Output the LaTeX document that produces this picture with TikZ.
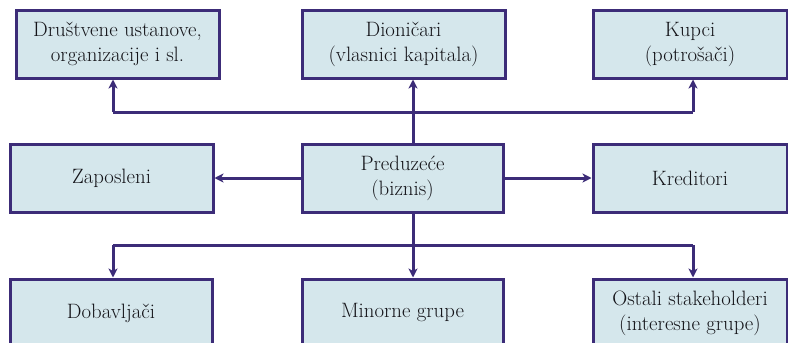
\documentclass[tikz,border=0pt]{standalone}
\usetikzlibrary{arrows.meta,calc}
\definecolor{boxfill}{RGB}{213,231,236}
\definecolor{boxline}{RGB}{60,44,120}
\definecolor{txt}{RGB}{20,20,25}
\begin{document}
\begin{tikzpicture}[x=1pt,y=-1pt,
  stkbox/.style={draw=boxline,fill=boxfill,line width=3pt,minimum height=68pt,
    inner sep=0pt,align=center,text=txt,font=\fontsize{20.8}{25}\selectfont},
  arr/.style={draw=boxline,line width=3pt,-{Stealth[length=9pt,width=9pt,inset=2.5pt]}},
  ln/.style={draw=boxline,line width=3pt}]
\useasboundingbox (0,0) rectangle (788,343);
\begin{scope}
\clip (0,0) rectangle (788,343);
\node[stkbox,minimum width=203pt] (dru) at (117.5,44) {Društvene ustanove,\\organizacije i sl.};
\node[stkbox,minimum width=203pt] (dio) at (403.5,44) {Dioničari\\(vlasnici kapitala)};
\node[stkbox,minimum width=194pt] (kup) at (690,44) {Kupci\\(potrošači)};
\node[stkbox,minimum width=203pt] (zap) at (111.5,178) {Zaposleni};
\node[stkbox,minimum width=201pt] (pre) at (402.5,178) {Preduzeće\\(biznis)};
\node[stkbox,minimum width=194pt] (kre) at (690,178) {Kreditori};
\node[stkbox,minimum width=202pt] (dob) at (111,313) {Dobavljači};
\node[stkbox,minimum width=201pt] (min) at (402.5,313) {Minorne grupe};
\node[stkbox,minimum width=194pt] (ost) at (690,313) {Ostali stakeholderi\\(interesne grupe)};
\end{scope}
\coordinate (vx) at (413,0);
\coordinate (bt) at (0,112);
\coordinate (bb) at (0,245);
\draw[arr] (pre.north -| vx) -- (dio.south -| vx);
\draw[ln] (bt -| vx) -- (bt -| 113,0);
\draw[arr] (bt -| 113,0) -- ([xshift=-4.5pt]dru.south);
\draw[ln] (bt -| vx) -- (bt -| 693,0);
\draw[arr] (bt -| 693,0) -- ([xshift=3pt]kup.south);
\draw[arr] (pre.west) -- (zap.east);
\draw[arr] (pre.east) -- (kre.west);
\draw[arr] (pre.south -| vx) -- (min.north -| vx);
\draw[ln] (bb -| 113,0) -- (bb -| 693,0);
\draw[arr] (bb -| 113,0) -- ([xshift=2pt]dob.north);
\draw[arr] (bb -| 693,0) -- ([xshift=3pt]ost.north);
\end{tikzpicture}
\end{document}
